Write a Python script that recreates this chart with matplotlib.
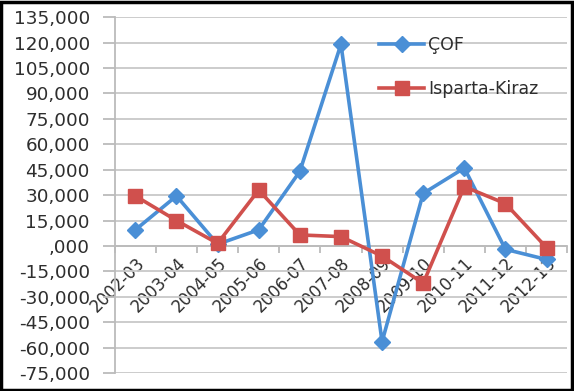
import matplotlib.pyplot as plt
from matplotlib.ticker import FuncFormatter, FixedLocator
from matplotlib.patches import Rectangle
import numpy as np

# data
seasons = ["2002-03", "2003-04", "2004-05", "2005-06", "2006-07", "2007-08",
           "2008-09", "2009-10", "2010-11", "2011-12", "2012-13"]
cof = [9500, 29500, 1000, 9500, 44000, 119000, -56500, 31000, 46000, -2000, -8000]
isparta = [29500, 15000, 1500, 33000, 6500, 5500, -6000, -22000, 35000, 25000, -1000]

plt.rcParams['font.family'] = ['DejaVu Sans']

fig = plt.figure(figsize=(5.74, 3.91), dpi=100)
ax = fig.add_axes([0.200, 0.046, 0.788, 0.910])

x = np.arange(len(seasons))
ax.plot(x, cof, color='#4A8FD6', linewidth=2.6, marker='D', markersize=8,
        label='ÇOF', zorder=3)
ax.plot(x, isparta, color='#D0504D', linewidth=2.6, marker='s', markersize=10,
        label='Isparta-Kiraz', zorder=3)

ax.set_xlim(-0.5, len(seasons) - 0.5)
ax.set_ylim(-75000, 135000)
ax.set_yticks(np.arange(-75000, 135001, 15000))

def fmt(v, pos):
    if v == 0:
        return ',000'
    return '{:,.0f}'.format(v)
ax.yaxis.set_major_formatter(FuncFormatter(fmt))

ax.grid(axis='y', color='#C8C8C8', linewidth=1.3)
ax.set_axisbelow(True)

# category axis crosses at zero
for s in ['top', 'right']:
    ax.spines[s].set_visible(False)
ax.spines['bottom'].set_position(('data', 0))
ax.spines['bottom'].set_color('#BBBBBB')
ax.spines['bottom'].set_linewidth(1.3)
ax.spines['left'].set_color('#BBBBBB')
ax.spines['left'].set_linewidth(1.3)

ax.set_xticks(x)
ax.set_xticklabels(seasons, rotation=45, ha='right', va='top',
                   rotation_mode='anchor', fontsize=12, color='#2E2E2E')
ax.tick_params(axis='x', which='major', length=0, pad=6)
ax.xaxis.set_minor_locator(FixedLocator(np.arange(-0.5, len(seasons), 1)))
ax.tick_params(axis='x', which='minor', length=5, color='#BBBBBB', width=1.3)
ax.tick_params(axis='y', length=9, color='#BBBBBB', width=1.3,
               labelsize=13.2, labelcolor='#2E2E2E', pad=9)

leg = ax.legend(loc='upper left', bbox_to_anchor=(0.55, 0.99), frameon=False,
                fontsize=12.5, labelspacing=1.5, handlelength=2.6,
                handletextpad=0.2)
for t in leg.get_texts():
    t.set_color('#2E2E2E')

fig.patches.append(Rectangle((0.002, 0.003), 0.995, 0.993, transform=fig.transFigure,
                             fill=False, edgecolor='black', linewidth=2.5))

plt.savefig('out.png', dpi=100)
